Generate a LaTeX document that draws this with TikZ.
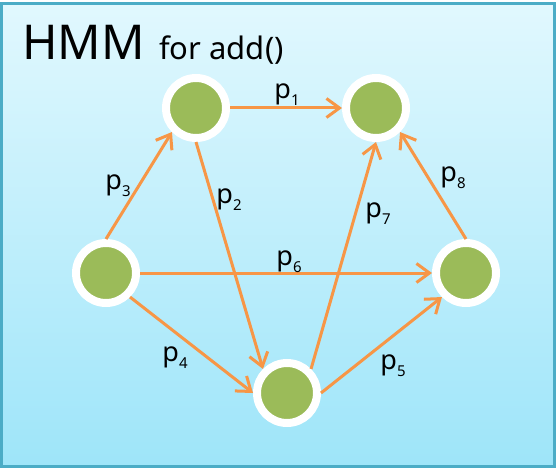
\documentclass[tikz,border=0pt]{standalone}
\usepackage{fontspec}
\setmainfont{Noto Sans}
\usetikzlibrary{arrows.meta}
\definecolor{frameblue}{HTML}{4BACC6}
\definecolor{bgtop}{HTML}{E1F8FE}
\definecolor{bgbot}{HTML}{9EE5F9}
\definecolor{stategreen}{HTML}{9BBB59}
\definecolor{arroworange}{HTML}{F79646}
\newcommand{\plab}[1]{p\raisebox{-7pt}{\fontsize{15}{15}\selectfont #1}}
\tikzset{
  state/.style={circle, fill=stategreen, draw=white, line width=8pt, minimum size=60pt, inner sep=0pt},
  trans/.style={draw=arroworange, line width=3pt, -{Straight Barb[length=13pt,width=19pt,line width=3pt]}},
  plabel/.style={font=\fontsize{27}{30}\selectfont, inner sep=0pt}
}
\begin{document}
\begin{tikzpicture}[x=1pt,y=-1pt]
\useasboundingbox (0,0) rectangle (556,468);
\shade[top color=bgtop, bottom color=bgbot] (1.5,4) rectangle (554,466);
\draw[frameblue, line width=3pt] (1.5,4) rectangle (554,466);
\node[anchor=base west, inner sep=0pt, font=\fontsize{48}{56}\selectfont] (title) at (22,60) {HMM};
\node[anchor=base west, inner sep=0pt, font=\fontsize{31}{34}\selectfont] (sub) at (159,60) {for add()};
\node[state] (A) at (196,108) {};
\node[state] (B) at (376,108) {};
\node[state] (C) at (106,273) {};
\node[state] (D) at (287,393) {};
\node[state] (E) at (466,273) {};
\draw[trans] (A.east) -- (B.west);
\draw[trans] (C.north) -- (A.south west);
\draw[trans] (A.south) -- (D.north west);
\draw[trans] (C.east) -- (E.west);
\draw[trans] (C.south east) -- (D.west);
\draw[trans] (D.east) -- (E.south west);
\draw[trans] (D.north east) -- (B.south);
\draw[trans] (E.north) -- (B.south east);
\node[plabel] (l1) at (287,95) {\plab{1}};
\node[plabel] (l3) at (118,186) {\plab{3}};
\node[plabel] (l2) at (229,200) {\plab{2}};
\node[plabel] (l7) at (378,214) {\plab{7}};
\node[plabel] (l8) at (453,178) {\plab{8}};
\node[plabel] (l6) at (289,262) {\plab{6}};
\node[plabel] (l4) at (175,358) {\plab{4}};
\node[plabel] (l5) at (393,366) {\plab{5}};
\end{tikzpicture}
\end{document}
